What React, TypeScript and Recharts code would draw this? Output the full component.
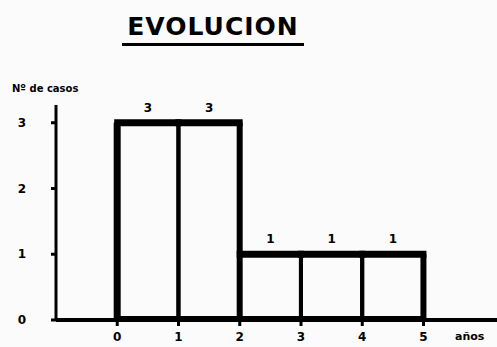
import { Bar, BarChart, LabelList, XAxis, YAxis } from "recharts";

const W = 497;
const H = 347;

// tramos de años (0-1, 1-2, ...) y número de casos
const anosDesde = [0, 1, 2, 3, 4];
const casos = [3, 3, 1, 1, 1];
const xTicks = [0, 1, 2, 3, 4, 5];
const yTicks = [0, 1, 2, 3];

const data = anosDesde.map((a, i) => ({ mid: a + 0.5, casos: casos[i] }));

const X_DOMAIN: [number, number] = [-1, 6.2];
const Y_DOMAIN: [number, number] = [0, 3.27];
const M = { top: 105, right: 0, bottom: 0, left: 0 };
const Y_W = 56;
const X_H = 27;
const PLOT_W = W - M.left - M.right - Y_W;
const BAR_W = PLOT_W / (X_DOMAIN[1] - X_DOMAIN[0]);

const FONT = "'DejaVu Sans', sans-serif";

function XTick({ x, y, payload }: any) {
  return (
    <text x={x} y={y + 13} textAnchor="middle" fontFamily={FONT} fontWeight={700} fontSize={12} fill="#000">
      {payload.value}
    </text>
  );
}

function YTick({ y, payload }: any) {
  return (
    <text x={22} y={y + 4} textAnchor="middle" fontFamily={FONT} fontWeight={700} fontSize={12} fill="#000">
      {payload.value}
    </text>
  );
}

// caja de cada tramo: bordes finos por dentro, contorno exterior más grueso
function Caja(props: any) {
  const { x, y, width, height, index } = props;
  const cx = x + width / 2;
  const l = cx - BAR_W / 2;
  const r = cx + BAR_W / 2;
  const b = y + height;
  const next = casos[index + 1];
  const thickRight = next === undefined || next < casos[index];
  return (
    <g>
      <rect x={l} y={y} width={BAR_W} height={height} fill="none" stroke="#000" strokeWidth={4} />
      <line x1={l - 3} x2={r + 3} y1={y} y2={y} stroke="#000" strokeWidth={7} />
      {index === 0 ? <line x1={l} x2={l} y1={y} y2={b} stroke="#000" strokeWidth={7} /> : null}
      {thickRight ? <line x1={r} x2={r} y1={y} y2={b} stroke="#000" strokeWidth={6} /> : null}
      <line x1={l} x2={r} y1={b - 2} y2={b - 2} stroke="#000" strokeWidth={4} />
    </g>
  );
}

export default function App() {
  return (
    <div style={{ position: "fixed", left: 0, top: 0, width: W, height: H, background: "#fbfbfb", fontFamily: FONT }}>
      <div
        style={{
          position: "absolute",
          left: 122,
          top: 13,
          width: 182,
          textAlign: "center",
          fontSize: 25,
          fontWeight: 700,
          letterSpacing: 1,
          lineHeight: "28px",
          color: "#000",
          borderBottom: "3px solid #000",
          paddingBottom: 2,
        }}
      >
        EVOLUCION
      </div>
      <div style={{ position: "absolute", left: 12, top: 83, fontSize: 10, fontWeight: 700, color: "#000" }}>
        Nº de casos
      </div>
      <div style={{ position: "absolute", left: 455, top: 330, fontSize: 11, fontWeight: 700, color: "#000" }}>
        años
      </div>
      <BarChart width={W} height={H} data={data} margin={M} barCategoryGap={0} barGap={0}>
        <XAxis
          dataKey="mid"
          type="number"
          domain={X_DOMAIN}
          ticks={xTicks}
          allowDataOverflow
          height={X_H}
          axisLine={{ stroke: "#000", strokeWidth: 4 }}
          tickLine={{ stroke: "#000", strokeWidth: 3 }}
          tickSize={6}
          tick={<XTick />}
        />
        <YAxis
          domain={Y_DOMAIN}
          ticks={yTicks}
          allowDataOverflow
          width={Y_W}
          axisLine={{ stroke: "#000", strokeWidth: 3 }}
          tickLine={{ stroke: "#000", strokeWidth: 3 }}
          tickSize={5}
          tick={<YTick />}
        />
        <Bar dataKey="casos" barSize={BAR_W} shape={<Caja />} isAnimationActive={false}>
          <LabelList
            dataKey="casos"
            position="top"
            offset={11}
            style={{ fontFamily: FONT, fontWeight: 700, fontSize: 12, fill: "#000" }}
          />
        </Bar>
      </BarChart>
    </div>
  );
}
